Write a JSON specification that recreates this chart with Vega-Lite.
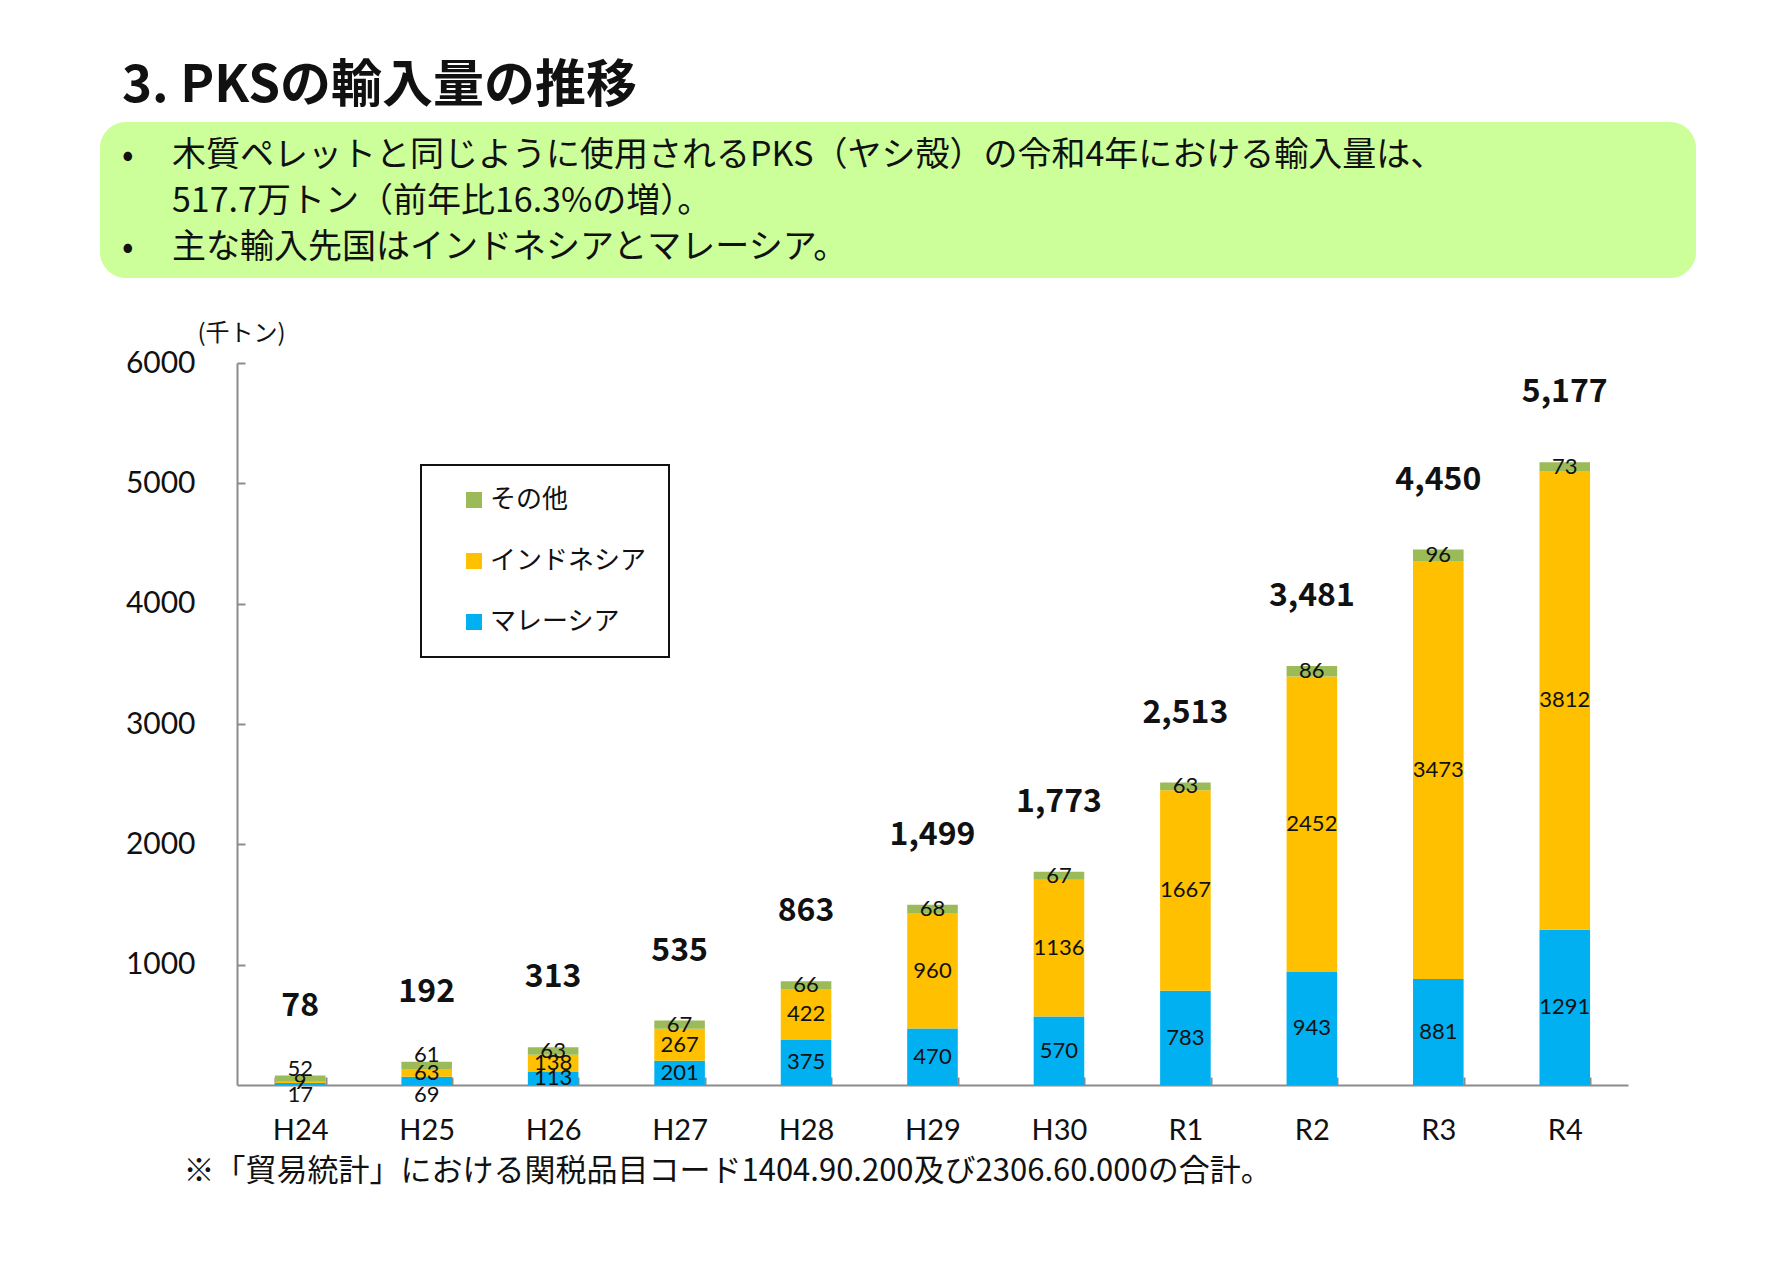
{
  "$schema": "https://vega.github.io/schema/vega-lite/v6.json",
  "background": "white",
  "padding": {"left": 100, "top": 61, "right": 20, "bottom": 20},
  "title": {"text": "3. PKSの輸入量の推移", "anchor": "start", "dx": 22, "fontSize": 51, "font": "Noto Sans CJK JP", "fontWeight": "bold", "color": "#111", "offset": 9},
  "config": {"view": {"stroke": null}, "legend": {"strokeWidth": 2}},
  "spacing": 43,
  "resolve": {"legend": {"color": "independent"}},
  "datasets": {
    "notes": [
      {"line": "1", "kind": "bullet", "text": "•"},
      {"line": "1", "kind": "text", "text": "木質ペレットと同じように使用されるPKS（ヤシ殻）の令和4年における輸入量は、"},
      {"line": "2", "kind": "text", "text": "517.7万トン（前年比16.3%の増）。"},
      {"line": "3", "kind": "bullet", "text": "•"},
      {"line": "3", "kind": "text", "text": "主な輸入先国はインドネシアとマレーシア。"}
    ],
    "imports": [
      {"year": "H24", "country": "マレーシア", "value": 17},
      {"year": "H24", "country": "インドネシア", "value": 9},
      {"year": "H24", "country": "その他", "value": 52},
      {"year": "H25", "country": "マレーシア", "value": 69},
      {"year": "H25", "country": "インドネシア", "value": 63},
      {"year": "H25", "country": "その他", "value": 61},
      {"year": "H26", "country": "マレーシア", "value": 113},
      {"year": "H26", "country": "インドネシア", "value": 138},
      {"year": "H26", "country": "その他", "value": 63},
      {"year": "H27", "country": "マレーシア", "value": 201},
      {"year": "H27", "country": "インドネシア", "value": 267},
      {"year": "H27", "country": "その他", "value": 67},
      {"year": "H28", "country": "マレーシア", "value": 375},
      {"year": "H28", "country": "インドネシア", "value": 422},
      {"year": "H28", "country": "その他", "value": 66},
      {"year": "H29", "country": "マレーシア", "value": 470},
      {"year": "H29", "country": "インドネシア", "value": 960},
      {"year": "H29", "country": "その他", "value": 68},
      {"year": "H30", "country": "マレーシア", "value": 570},
      {"year": "H30", "country": "インドネシア", "value": 1136},
      {"year": "H30", "country": "その他", "value": 67},
      {"year": "R1", "country": "マレーシア", "value": 783},
      {"year": "R1", "country": "インドネシア", "value": 1667},
      {"year": "R1", "country": "その他", "value": 63},
      {"year": "R2", "country": "マレーシア", "value": 943},
      {"year": "R2", "country": "インドネシア", "value": 2452},
      {"year": "R2", "country": "その他", "value": 86},
      {"year": "R3", "country": "マレーシア", "value": 881},
      {"year": "R3", "country": "インドネシア", "value": 3473},
      {"year": "R3", "country": "その他", "value": 96},
      {"year": "R4", "country": "マレーシア", "value": 1291},
      {"year": "R4", "country": "インドネシア", "value": 3812},
      {"year": "R4", "country": "その他", "value": 73}
    ],
    "totals": [
      {"year": "H24", "total": 78},
      {"year": "H25", "total": 192},
      {"year": "H26", "total": 313},
      {"year": "H27", "total": 535},
      {"year": "H28", "total": 863},
      {"year": "H29", "total": 1499},
      {"year": "H30", "total": 1773},
      {"year": "R1", "total": 2513},
      {"year": "R2", "total": 3481},
      {"year": "R3", "total": 4450},
      {"year": "R4", "total": 5177}
    ]
  },
  "vconcat": [
    {
      "width": 1596,
      "height": 156,
      "view": {"fill": "#CCFF99", "stroke": null, "cornerRadius": 26},
      "data": {"name": "notes"},
      "mark": {"type": "text", "align": "left", "baseline": "middle", "font": "Noto Sans CJK JP", "fontSize": 34, "color": "#111"},
      "encoding": {
        "y": {"field": "line", "type": "ordinal", "axis": null, "scale": {"range": [34, 126], "padding": 0}},
        "x": {"field": "kind", "type": "nominal", "axis": null, "scale": {"domain": ["bullet", "text"], "range": [22, 72], "padding": 0}},
        "text": {"field": "text"}
      }
    },
    {
      "width": 1528,
      "height": 722,
      "layer": [
        {
          "data": {"name": "imports"},
          "transform": [
            {"stack": "value", "groupby": ["year"], "sort": [{"field": "country", "order": "descending"}], "as": ["v0", "v1"]}
          ],
          "mark": {"type": "bar"},
          "encoding": {
            "x": {
              "field": "year", "type": "nominal",
              "sort": ["H24", "H25", "H26", "H27", "H28", "H29", "H30", "R1", "R2", "R3", "R4"],
              "scale": {"range": [137, 1528], "paddingInner": 0.6, "paddingOuter": 0.3},
              "axis": {
                "title": "※「貿易統計」における関税品目コード1404.90.200及び2306.60.000の合計。",
                "titleX": 83, "titleY": 86, "titleAlign": "left", "titleBaseline": "middle",
                "titleFont": "Noto Sans CJK JP", "titleFontSize": 31, "titleFontWeight": "normal", "titleColor": "#111",
                "labelAngle": 0, "labelFont": "Lato", "labelFontSize": 29, "labelColor": "#111", "labelPadding": 39,
                "tickBand": "extent", "tickSize": -8, "tickWidth": 2, "tickColor": "#8c8c8c",
                "domainColor": "#8c8c8c", "domainWidth": 2, "grid": false
              }
            },
            "y": {
              "field": "v0", "type": "quantitative",
              "scale": {"domain": [0, 6000], "nice": false},
              "axis": {
                "offset": -137,
                "values": [1000, 2000, 3000, 4000, 5000, 6000], "format": "d",
                "grid": false, "domainColor": "#8c8c8c", "domainWidth": 2,
                "tickColor": "#8c8c8c", "tickSize": -8, "tickWidth": 2,
                "labelFont": "Lato", "labelFontSize": 30, "labelColor": "#111", "labelPadding": 50,
                "title": "(千トン)", "titleAngle": 0, "titleX": 4, "titleY": -30,
                "titleAlign": "center", "titleBaseline": "middle",
                "titleFont": "Noto Sans CJK JP", "titleFontSize": 24, "titleFontWeight": "normal", "titleColor": "#111"
              }
            },
            "y2": {"field": "v1"},
            "color": {
              "field": "country", "type": "nominal",
              "scale": {"domain": ["その他", "インドネシア", "マレーシア"], "range": ["#9BBB59", "#FFC000", "#00B0F0"]},
              "legend": {
                "orient": "none", "legendX": 321, "legendY": 102, "title": null,
                "symbolType": "square", "symbolSize": 256, "symbolStrokeWidth": 0,
                "labelFont": "Noto Sans CJK JP", "labelFontSize": 26, "labelColor": "#111",
                "rowPadding": 35, "padding": 22, "symbolOffset": 18, "labelOffset": 3,
                "strokeColor": "#111", "fillColor": "white", "direction": "vertical"
              }
            }
          }
        },
        {
          "data": {"name": "imports"},
          "transform": [
            {"stack": "value", "groupby": ["year"], "sort": [{"field": "country", "order": "descending"}], "as": ["v0", "v1"]},
            {"calculate": "(datum.v0 + datum.v1) / 2", "as": "mid"},
            {"filter": "!((datum.year === 'H24' || datum.year === 'H25') && datum.country !== 'インドネシア')"}
          ],
          "mark": {"type": "text", "font": "Lato", "fontSize": 22, "color": "#111", "baseline": "middle"},
          "encoding": {
            "x": {"field": "year", "type": "nominal", "sort": ["H24", "H25", "H26", "H27", "H28", "H29", "H30", "R1", "R2", "R3", "R4"]},
            "y": {"field": "mid", "type": "quantitative"},
            "text": {"field": "value", "type": "quantitative"}
          }
        },
        {
          "data": {"name": "imports"},
          "transform": [
            {"stack": "value", "groupby": ["year"], "sort": [{"field": "country", "order": "descending"}], "as": ["v0", "v1"]},
            {"filter": "(datum.year === 'H24' || datum.year === 'H25') && datum.country === 'その他'"}
          ],
          "mark": {"type": "text", "font": "Lato", "fontSize": 22, "color": "#111", "baseline": "middle", "dy": -7},
          "encoding": {
            "x": {"field": "year", "type": "nominal", "sort": ["H24", "H25", "H26", "H27", "H28", "H29", "H30", "R1", "R2", "R3", "R4"]},
            "y": {"field": "v1", "type": "quantitative"},
            "text": {"field": "value", "type": "quantitative"}
          }
        },
        {
          "data": {"name": "imports"},
          "transform": [
            {"stack": "value", "groupby": ["year"], "sort": [{"field": "country", "order": "descending"}], "as": ["v0", "v1"]},
            {"filter": "(datum.year === 'H24' || datum.year === 'H25') && datum.country === 'マレーシア'"}
          ],
          "mark": {"type": "text", "font": "Lato", "fontSize": 22, "color": "#111", "baseline": "middle", "dy": 10},
          "encoding": {
            "x": {"field": "year", "type": "nominal", "sort": ["H24", "H25", "H26", "H27", "H28", "H29", "H30", "R1", "R2", "R3", "R4"]},
            "y": {"field": "v0", "type": "quantitative"},
            "text": {"field": "value", "type": "quantitative"}
          }
        },
        {
          "data": {"name": "totals"},
          "mark": {"type": "text", "font": "Noto Sans CJK JP", "fontWeight": "bold", "fontSize": 32, "color": "#111", "baseline": "middle", "dy": -70},
          "encoding": {
            "x": {"field": "year", "type": "nominal", "sort": ["H24", "H25", "H26", "H27", "H28", "H29", "H30", "R1", "R2", "R3", "R4"]},
            "y": {"field": "total", "type": "quantitative"},
            "text": {"field": "total", "type": "quantitative", "format": ","}
          }
        }
      ]
    }
  ]
}
